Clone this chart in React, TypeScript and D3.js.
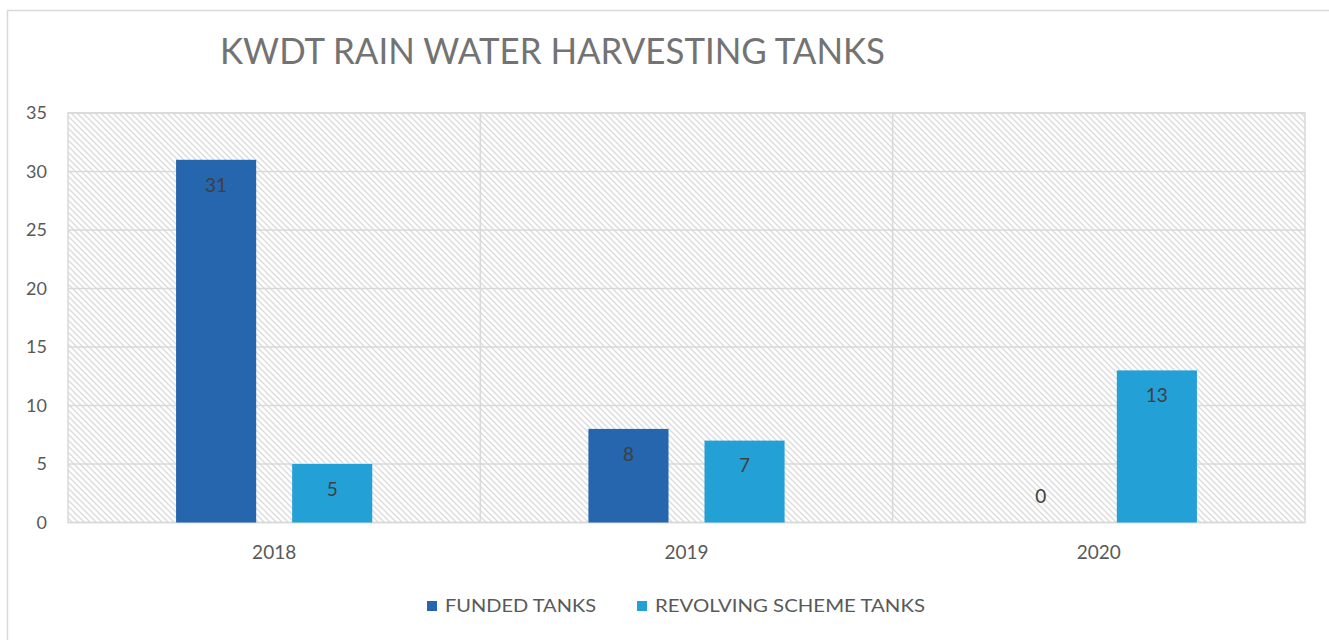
import React from "react";
import * as d3 from "d3";

const categories = ["2018", "2019", "2020"];
const seriesNames = ["FUNDED TANKS", "REVOLVING SCHEME TANKS"];
const fundedTanks = [31, 8, 0];
const revolvingTanks = [5, 7, 13];
const yTicks = [0, 5, 10, 15, 20, 25, 30, 35];
const seriesColors = ["#2566AE", "#23A0D6"];
const title = "KWDT RAIN WATER HARVESTING TANKS";

const W = 1329;
const H = 640;
const plot = { left: 68, right: 1305, top: 113, bottom: 522.5 };
const FONT = "Lato, 'Open Sans', sans-serif";

export default function App() {
  const x = d3.scaleBand<string>().domain(categories).range([plot.left, plot.right]).paddingInner(0).paddingOuter(0);
  const xs = d3.scaleBand<string>().domain(seriesNames).range([0, x.bandwidth()]).paddingInner(0.31).paddingOuter(0.931);
  const y = d3.scaleLinear().domain([0, 35]).range([plot.bottom, plot.top]);
  const series = [fundedTanks, revolvingTanks];

  const boundaries = categories.map((c) => x(c) as number).slice(1);

  return (
    <svg width={W} height={H} style={{ position: "absolute", left: 0, top: 0, background: "#fff" }}>
      <defs>
        <pattern id="hatch" patternUnits="userSpaceOnUse" width={6} height={6}>
          <rect width={6} height={6} fill="#ffffff" />
          <path d="M-1,-1 L7,7 M-1,5 L1,7 M5,-1 L7,1" stroke="#dcdcdc" strokeWidth={1.4} />
        </pattern>
      </defs>
      {/* outer chart border */}
      <path d={`M7.5,${H} L7.5,10.5 L${W},10.5`} fill="none" stroke="#d9d9d9" strokeWidth={1.5} />

      <text x={552.5} y={64} textAnchor="middle" fontFamily={FONT} fontSize={36} fill="#737373" textLength={665} lengthAdjust="spacingAndGlyphs">
        {title}
      </text>

      {/* plot area */}
      <rect x={plot.left} y={plot.top} width={plot.right - plot.left} height={plot.bottom - plot.top} fill="url(#hatch)" stroke="#d9d9d9" strokeWidth={1.5} />

      {yTicks.map((t) => (
        <g key={t}>
          <line x1={plot.left} x2={plot.right} y1={y(t)} y2={y(t)} stroke="#d9d9d9" strokeWidth={1.5} />
          <text x={47} y={y(t)} dy="0.36em" textAnchor="end" fontFamily={FONT} fontSize={18} fill="#595959">
            {t}
          </text>
        </g>
      ))}
      {boundaries.map((bx, i) => (
        <line key={i} x1={bx} x2={bx} y1={plot.top} y2={plot.bottom} stroke="#d9d9d9" strokeWidth={1.5} />
      ))}

      {categories.map((c, ci) => (
        <g key={c}>
          {series.map((vals, si) => {
            const v = vals[ci];
            const bx = (x(c) as number) + (xs(seriesNames[si]) as number);
            const by = y(v);
            const bh = y(0) - y(v);
            const labelY = v === 0 ? y(0) - 26 : by + 25;
            return (
              <g key={si}>
                {bh > 0 && <rect x={bx} y={by} width={xs.bandwidth()} height={bh} fill={seriesColors[si]} />}
                <text x={bx + xs.bandwidth() / 2} y={labelY} dy="0.36em" textAnchor="middle" fontFamily={FONT} fontSize={19} fill="#404040">
                  {v}
                </text>
              </g>
            );
          })}
          <text x={(x(c) as number) + x.bandwidth() / 2} y={552} dy="0.36em" textAnchor="middle" fontFamily={FONT} fontSize={19} fill="#595959">
            {c}
          </text>
        </g>
      ))}

      {/* legend */}
      <g>
        <rect x={427} y={601} width={10} height={10} fill={seriesColors[0]} />
        <text x={445} y={606} dy="0.36em" fontFamily={FONT} fontSize={18} fill="#595959" textLength={151} lengthAdjust="spacingAndGlyphs">
          {seriesNames[0]}
        </text>
        <rect x={637} y={601} width={10} height={10} fill={seriesColors[1]} />
        <text x={655} y={606} dy="0.36em" fontFamily={FONT} fontSize={18} fill="#595959" textLength={270} lengthAdjust="spacingAndGlyphs">
          {seriesNames[1]}
        </text>
      </g>
    </svg>
  );
}
